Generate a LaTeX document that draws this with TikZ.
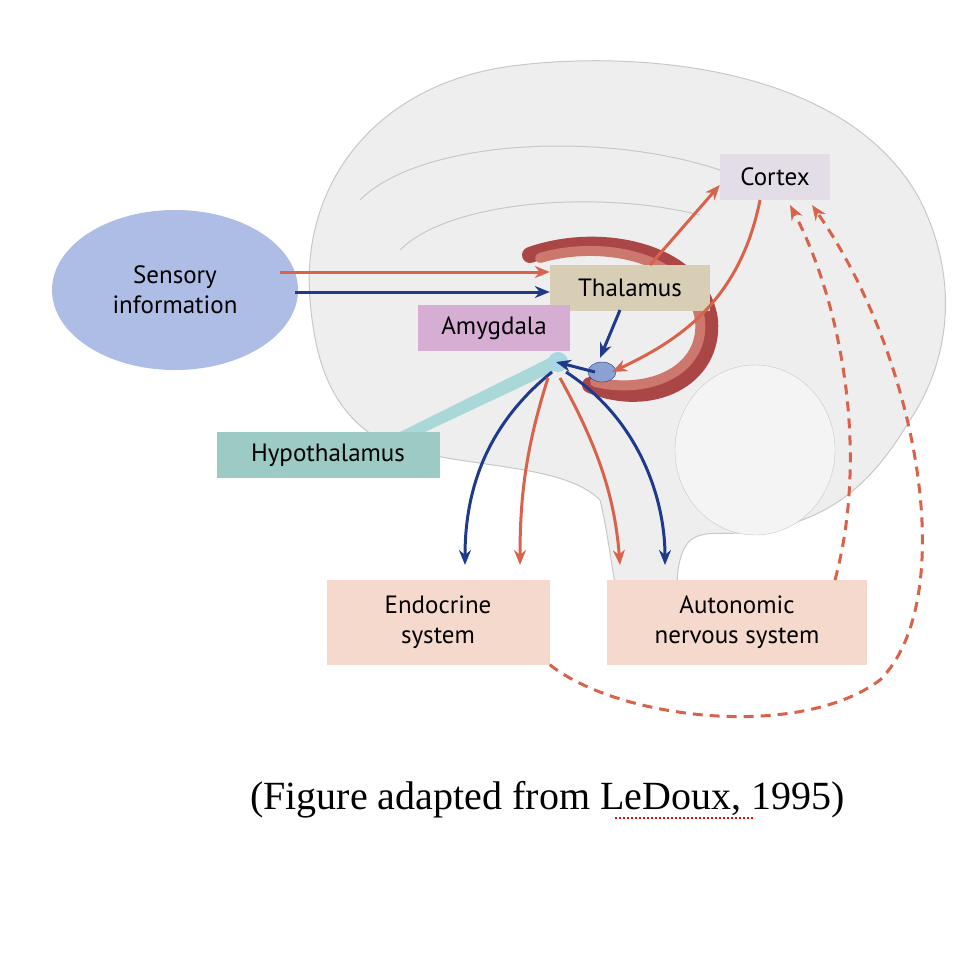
\documentclass[tikz,border=0pt]{standalone}
\usepackage{fontspec}
\setmainfont{PT Sans}
\newfontfamily\capfont{Liberation Serif}
\usetikzlibrary{arrows.meta,shapes.geometric}
\definecolor{rd}{HTML}{D9634A}
\definecolor{bl}{HTML}{1F3A8A}
\definecolor{brain}{HTML}{EEEEEE}
\definecolor{brainl}{HTML}{C8C8C8}
\definecolor{limbd}{RGB}{170,70,70}
\definecolor{limbl}{RGB}{205,120,110}
\definecolor{hypw}{RGB}{170,215,215}
\definecolor{hypd}{RGB}{170,215,225}
\definecolor{amyb}{RGB}{140,160,210}
\definecolor{senc}{RGB}{174,189,230}
\definecolor{corc}{RGB}{226,221,230}
\definecolor{thac}{RGB}{216,205,181}
\definecolor{amyc}{RGB}{214,174,212}
\definecolor{hypc}{RGB}{156,202,197}
\definecolor{outc}{RGB}{245,217,204}
\definecolor{cereb}{RGB}{244,244,244}
\tikzset{
 box/.style={draw=none,minimum height=46pt,align=center,font=\fontsize{25}{30}\selectfont,inner sep=4pt},
 ra/.style={rd,line width=3pt,-{Stealth[length=15pt,width=12pt]}},
 ba/.style={bl,line width=3pt,-{Stealth[length=15pt,width=12pt]}},
 da/.style={ra,dash pattern=on 10pt off 7pt}
}
\begin{document}
\begin{tikzpicture}[x=1pt,y=-1pt]
\useasboundingbox (0,0) rectangle (965,977);
% brain
\fill[brain,draw=brainl,line width=1pt] (310,300) .. controls (300,180) and (380,80) .. (520,65)
 .. controls (650,50) and (850,70) .. (920,200) .. controls (960,280) and (950,360) .. (910,420)
 .. controls (880,470) and (840,520) .. (760,530) .. controls (720,540) and (690,520) .. (680,560)
 .. controls (670,600) and (690,630) .. (690,660) -- (630,660) .. controls (615,600) and (610,540) .. (600,500)
 .. controls (560,460) and (450,470) .. (380,440) .. controls (330,410) and (315,360) .. (310,300) -- cycle;
\fill[cereb,draw=brainl] (755,450) ellipse (80pt and 85pt);
\draw[brainl,line width=1pt] (360,200) .. controls (420,140) and (600,130) .. (720,170);
\draw[brainl,line width=1pt] (400,250) .. controls (450,200) and (600,190) .. (700,215);
% limbic
\draw[line width=16pt,limbd,line cap=round] (530,255) .. controls (600,230) and (700,250) .. (710,320) .. controls (715,380) and (650,410) .. (590,385);
\draw[line width=10pt,limbl,line cap=round] (540,258) .. controls (600,240) and (690,255) .. (700,320) .. controls (705,370) and (650,395) .. (595,382);
% hypothalamus wedge
\fill[hypw] (400,432) -- (555,355) -- (563,367) -- (425,432) -- cycle;
\fill[hypd] (558,362) circle (10pt);
\fill[amyb,draw=bl] (602,372) ellipse (14pt and 10pt);
% nodes
\node[fill=senc,ellipse,minimum width=246pt,minimum height=160pt,align=center,font=\fontsize{25}{30}\selectfont] (sen) at (175,290) {Sensory\\information};
\node[box,fill=corc,minimum width=110pt] (cor) at (775,177) {Cortex};
\node[box,fill=thac,minimum width=160pt] (tha) at (630,288) {Thalamus};
\node[box,fill=amyc,minimum width=152pt] (amy) at (494,328) {Amygdala};
\node[box,fill=hypc,minimum width=223pt] (hyp) at (328,455) {Hypothalamus};
\node[box,fill=outc,minimum width=223pt,minimum height=85pt] (end) at (438,622) {Endocrine\\system};
\node[box,fill=outc,minimum width=260pt,minimum height=85pt] (aut) at (737,622) {Autonomic\\nervous system};
\coordinate (am) at (595,372);
\coordinate (hy) at (556,362);
% arrows
\draw[ra] (280,272) -- (tha.west |- 0,272);
\draw[ba] (295,292) -- (tha.west |- 0,292);
\draw[ra] (650,265) -- (cor.west |- 0,185);
\draw[ra] (760,200) .. controls (740,300) and (680,340) .. (612,372);
\draw[ba] (620,310) -- (600,358);
\draw[ba] (am) -- (hy);
\draw[ba] (552,372) .. controls (480,430) and (465,500) .. (465,565);
\draw[ra] (548,378) .. controls (525,450) and (520,500) .. (520,565);
\draw[ra] (560,378) .. controls (600,450) and (615,500) .. (620,565);
\draw[ba] (566,372) .. controls (640,420) and (665,500) .. (665,565);
\draw[da] (835,580) .. controls (870,450) and (840,300) .. (790,205);
\draw[da] (end.south east) .. controls (620,720) and (800,740) .. (880,680) .. controls (960,600) and (920,360) .. (812,205);
% caption
\node[font=\capfont\fontsize{40}{46}\selectfont,anchor=west,inner sep=0pt] (cap) at (250,800) {(Figure adapted from LeDoux, 1995)};
\draw[red,line width=1.5pt,dash pattern=on 2pt off 2pt] (615,818) -- (755,818);
\end{tikzpicture}
\end{document}
